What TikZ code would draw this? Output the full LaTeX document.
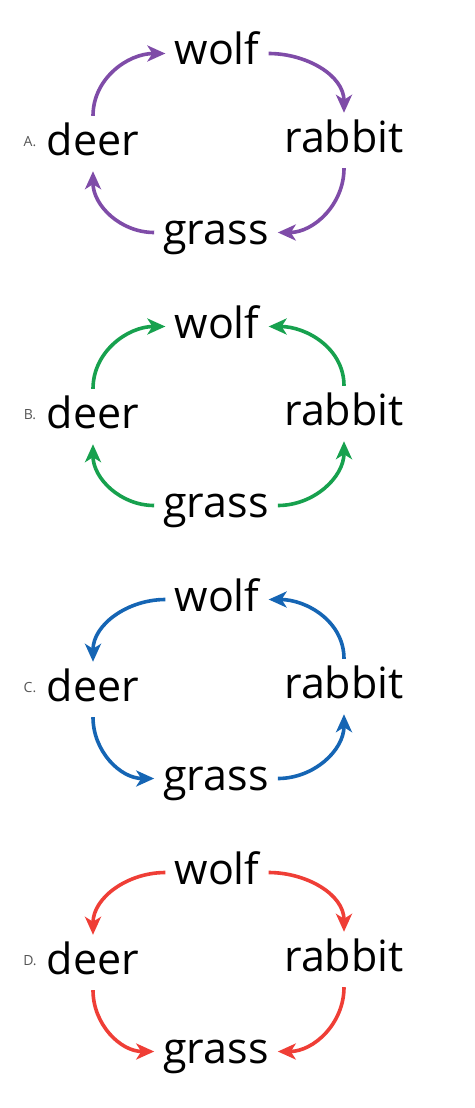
\documentclass[tikz,border=0pt]{standalone}
\usepackage{fontspec}
\setmainfont{Open Sans}
\usetikzlibrary{arrows.meta}
\definecolor{webpurple}{HTML}{7F4CA8}
\definecolor{webgreen}{HTML}{17A14E}
\definecolor{webblue}{HTML}{1565B4}
\definecolor{webred}{HTML}{EF3E36}
\definecolor{labelgray}{HTML}{555555}
\tikzset{>={Stealth[length=18pt,width=16pt,inset=5pt]}}
\tikzset{animal/.style={anchor=base,font=\fontsize{43}{43}\selectfont,text height=30pt,text depth=7pt,inner sep=9pt}}
\tikzset{letter/.style={anchor=base,font=\fontsize{14}{14}\selectfont,text=labelgray,inner sep=0pt}}
\tikzset{link/.style={->,line width=3.6pt}}

\begin{document}
\begin{tikzpicture}[x=1pt,y=-1pt]
  \useasboundingbox (0,0) rectangle (474,1108);
  % the same four animals in every panel
  \foreach \p/\dy in {A/0,B/273,C/546,D/819} {
    \begin{scope}[shift={(0,\dy)}]
      \node[letter] (tag\p) at (30,146) {\p.};
      \node[animal] (wolf\p) at (217,65) {wolf};
      \node[animal] (deer\p) at (93,155) {deer};
      \node[animal] (rabbit\p) at (344,152) {rabbit};
      \node[animal] (grass\p) at (216,244) {grass};
    \end{scope}
  }
  % A
  \draw[link,webpurple] (deerA) to[out=90,in=180] (wolfA);
  \draw[link,webpurple] (wolfA) to[out=0,in=90] (rabbitA);
  \draw[link,webpurple] (rabbitA) to[out=-90,in=0] (grassA);
  \draw[link,webpurple] (grassA) to[out=180,in=-90] (deerA);
  % B
  \draw[link,webgreen] (deerB) to[out=90,in=180] (wolfB);
  \draw[link,webgreen] (rabbitB) to[out=90,in=0] (wolfB);
  \draw[link,webgreen] (grassB) to[out=180,in=-90] (deerB);
  \draw[link,webgreen] (grassB) to[out=0,in=-90] (rabbitB);
  % C
  \draw[link,webblue] (wolfC) to[out=180,in=90] (deerC);
  \draw[link,webblue] (rabbitC) to[out=90,in=0] (wolfC);
  \draw[link,webblue] (deerC) to[out=-90,in=180] (grassC);
  \draw[link,webblue] (grassC) to[out=0,in=-90] (rabbitC);
  % D
  \draw[link,webred] (wolfD) to[out=180,in=90] (deerD);
  \draw[link,webred] (wolfD) to[out=0,in=90] (rabbitD);
  \draw[link,webred] (deerD) to[out=-90,in=180] (grassD);
  \draw[link,webred] (rabbitD) to[out=-90,in=0] (grassD);
\end{tikzpicture}
\end{document}
